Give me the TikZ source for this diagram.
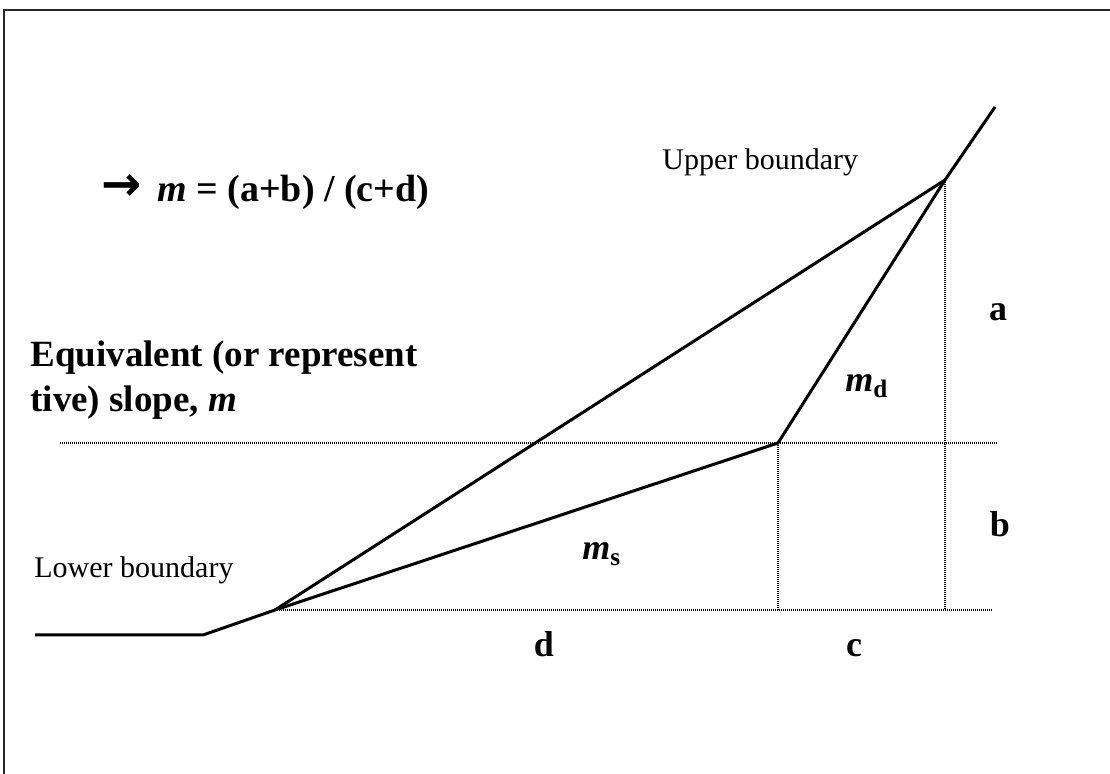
\documentclass[tikz,border=0pt]{standalone}
\usepackage{fontspec}
\setmainfont{Liberation Serif}
\newfontfamily\symfont{DejaVu Sans}
\usetikzlibrary{positioning}
\tikzset{
  px/.style   ={x=0.5pt, y=-0.5pt},
  slope/.style={line width=1.5pt, line join=round},
  guide/.style={line width=0.6pt, dash pattern=on 0.5pt off 0.5pt},
  frame/.style={line width=1pt, black!85},
  note/.style ={inner sep=0pt, font=\fontsize{15}{18}\selectfont},
  title/.style={inner sep=0pt, font=\fontsize{18.5}{22.5}\selectfont\bfseries},
  lbl/.style  ={inner sep=0pt, font=\fontsize{18}{22}\selectfont\bfseries},
}
\newcommand{\slopem}{\textbf{\textit{m}}}
\begin{document}
\begin{tikzpicture}[px]
  \useasboundingbox (0,0) rectangle (1110,774);
  \draw[frame] (4,774) -- (4,10) -- (1110,10);

  % profile points
  \coordinate (left)  at (35,635);
  \coordinate (toe)   at (203,635);
  \coordinate (foot)  at (275,610);
  \coordinate (brk)   at (778,443);
  \coordinate (crest) at (945,180);
  \coordinate (ext)   at (995,107);
  \coordinate (hl)    at (60,443);
  \coordinate (hr)    at (997,443);
  \coordinate (bl)    at (993,610);
  \coordinate (brkb)  at (778,610);
  \coordinate (crestb) at (945,610);

  \draw[guide] (hl) -- (hr);
  \draw[guide] (foot) -- (bl);
  \draw[guide] (brk) -- (brkb);
  \draw[guide] (crest) -- (crestb);

  \draw[slope] (left) -- (toe) -- (foot) -- (brk) -- (crest) -- (ext);
  \draw[slope] (foot) -- (crest);

  \node[note, anchor=base west] (upper) at (662,170) {Upper boundary};
  \node[note, anchor=base west] (lower) at (34,578) {Lower boundary};
  \node[inner sep=0pt, anchor=base west, font=\symfont\bfseries\fontsize{24}{24}\selectfont]
    (arrow) at (101,201) {→};
  \node[lbl, anchor=base west, font=\fontsize{19}{22}\selectfont\bfseries] (eq) at (157,202)
    {\slopem{} = (a+b) / (c+d)};
  \node[title, anchor=base west] (eqv1) at (30,367) {Equivalent (or represent};
  \node[title, anchor=base west] (eqv2) at (30,412) {tive) slope, \textit{m}};

  \node[lbl, anchor=base] (a) at (998,321) {a};
  \node[lbl, anchor=base] (b) at (1000,537) {b};
  \node[lbl, anchor=base] (c) at (854,657) {c};
  \node[lbl, anchor=base] (d) at (544,657) {d};
  \node[lbl, anchor=base west] (md) at (845,392) {\slopem\textsubscript{d}};
  \node[lbl, anchor=base west] (ms) at (582,560) {\slopem\textsubscript{s}};
\end{tikzpicture}
\end{document}
